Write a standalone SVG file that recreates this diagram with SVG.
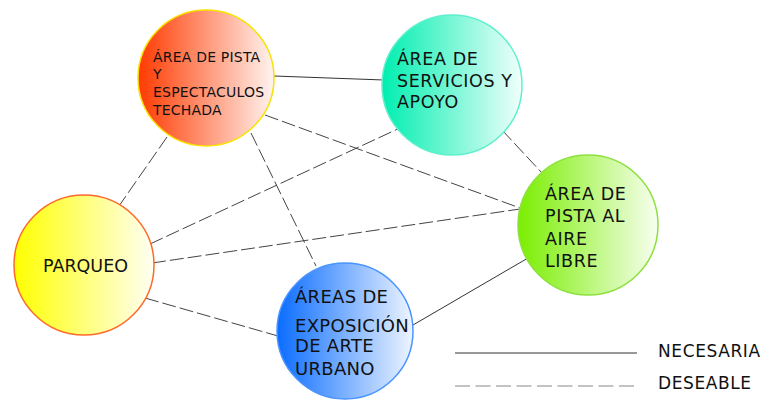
<svg xmlns="http://www.w3.org/2000/svg" width="781" height="400" viewBox="0 0 781 400">
<defs>
<linearGradient id="gRed" x1="0" y1="0" x2="1" y2="0"><stop offset="0" stop-color="#ff3a00"/><stop offset="1" stop-color="#fff4f0"/></linearGradient>
<linearGradient id="gTeal" x1="0" y1="0" x2="1" y2="0"><stop offset="0" stop-color="#00eeb0"/><stop offset="1" stop-color="#f0fffb"/></linearGradient>
<linearGradient id="gGreen" x1="0" y1="0" x2="1" y2="0"><stop offset="0" stop-color="#7aee00"/><stop offset="1" stop-color="#f8fff0"/></linearGradient>
<linearGradient id="gBlue" x1="0" y1="0" x2="1" y2="0"><stop offset="0" stop-color="#0a6cff"/><stop offset="1" stop-color="#eef5ff"/></linearGradient>
<linearGradient id="gYellow" x1="0" y1="0" x2="1" y2="0"><stop offset="0" stop-color="#ffff00"/><stop offset="1" stop-color="#fffff4"/></linearGradient>
</defs>
<style>
.sol{stroke:#333;stroke-width:1;fill:none}
.dash{stroke:#444;stroke-width:1;fill:none;stroke-dasharray:14 4}
.t{font-family:"DejaVu Sans","Verdana",sans-serif;fill:#111}
</style>
<g id="connectors">
<line class="sol" x1="274" y1="76" x2="384" y2="80"/>
<line class="sol" x1="413" y1="325" x2="528" y2="258"/>
<line class="dash" x1="265" y1="115" x2="520" y2="208"/>
<line class="dash" x1="251" y1="133" x2="316" y2="266"/>
<line class="dash" x1="167" y1="137" x2="119" y2="206"/>
<line class="dash" x1="150" y1="244" x2="402" y2="127"/>
<line class="dash" x1="502" y1="130" x2="542" y2="173"/>
<line class="dash" x1="152" y1="263" x2="520" y2="209"/>
<line class="dash" x1="145" y1="298" x2="278" y2="336"/>
</g>
<g id="n1">
<circle cx="206" cy="78" r="68" fill="url(#gRed)" stroke="#f7e200" stroke-width="1.5"/>
<text class="t" font-size="14" letter-spacing="0.2"><tspan x="153" y="62">ÁREA DE PISTA</tspan><tspan x="153" y="79">Y</tspan><tspan x="153" y="97">ESPECTACULOS</tspan><tspan x="153" y="115">TECHADA</tspan></text>
</g>
<g id="n2">
<circle cx="452" cy="85" r="70" fill="url(#gTeal)" stroke="#5ef0cc" stroke-width="1.5"/>
<text class="t" font-size="17.5" letter-spacing="0.6"><tspan x="397" y="65">ÁREA DE</tspan><tspan x="397" y="87">SERVICIOS Y</tspan><tspan x="397" y="108">APOYO</tspan></text>
</g>
<g id="n3">
<circle cx="588" cy="225" r="70" fill="url(#gGreen)" stroke="#8ee040" stroke-width="1.5"/>
<text class="t" font-size="17.5" letter-spacing="0.6"><tspan x="545" y="200">ÁREA DE</tspan><tspan x="545" y="222">PISTA AL</tspan><tspan x="545" y="245">AIRE</tspan><tspan x="545" y="267">LIBRE</tspan></text>
</g>
<g id="n4">
<circle cx="345" cy="331" r="68" fill="url(#gBlue)" stroke="#4a94ff" stroke-width="1.5"/>
<text class="t" font-size="18" letter-spacing="0.3"><tspan x="295" y="303">ÁREAS DE</tspan><tspan x="295" y="332">EXPOSICIÓN</tspan><tspan x="295" y="352">DE ARTE</tspan><tspan x="295" y="375">URBANO</tspan></text>
</g>
<g id="n5">
<circle cx="84" cy="265" r="70" fill="url(#gYellow)" stroke="#ff6a2a" stroke-width="1.5"/>
<text class="t" font-size="17.5" x="43" y="272">PARQUEO</text>
</g>
<g id="legend">
<line x1="455" y1="353" x2="637" y2="353" stroke="#333" stroke-width="1"/>
<line x1="455" y1="386" x2="637" y2="386" stroke="#888" stroke-width="1.2" stroke-dasharray="15 5.5"/>
<text class="t" font-size="17" letter-spacing="0.6" x="658" y="357">NECESARIA</text>
<text class="t" font-size="17" letter-spacing="0.6" x="658" y="389">DESEABLE</text>
</g>
</svg>
